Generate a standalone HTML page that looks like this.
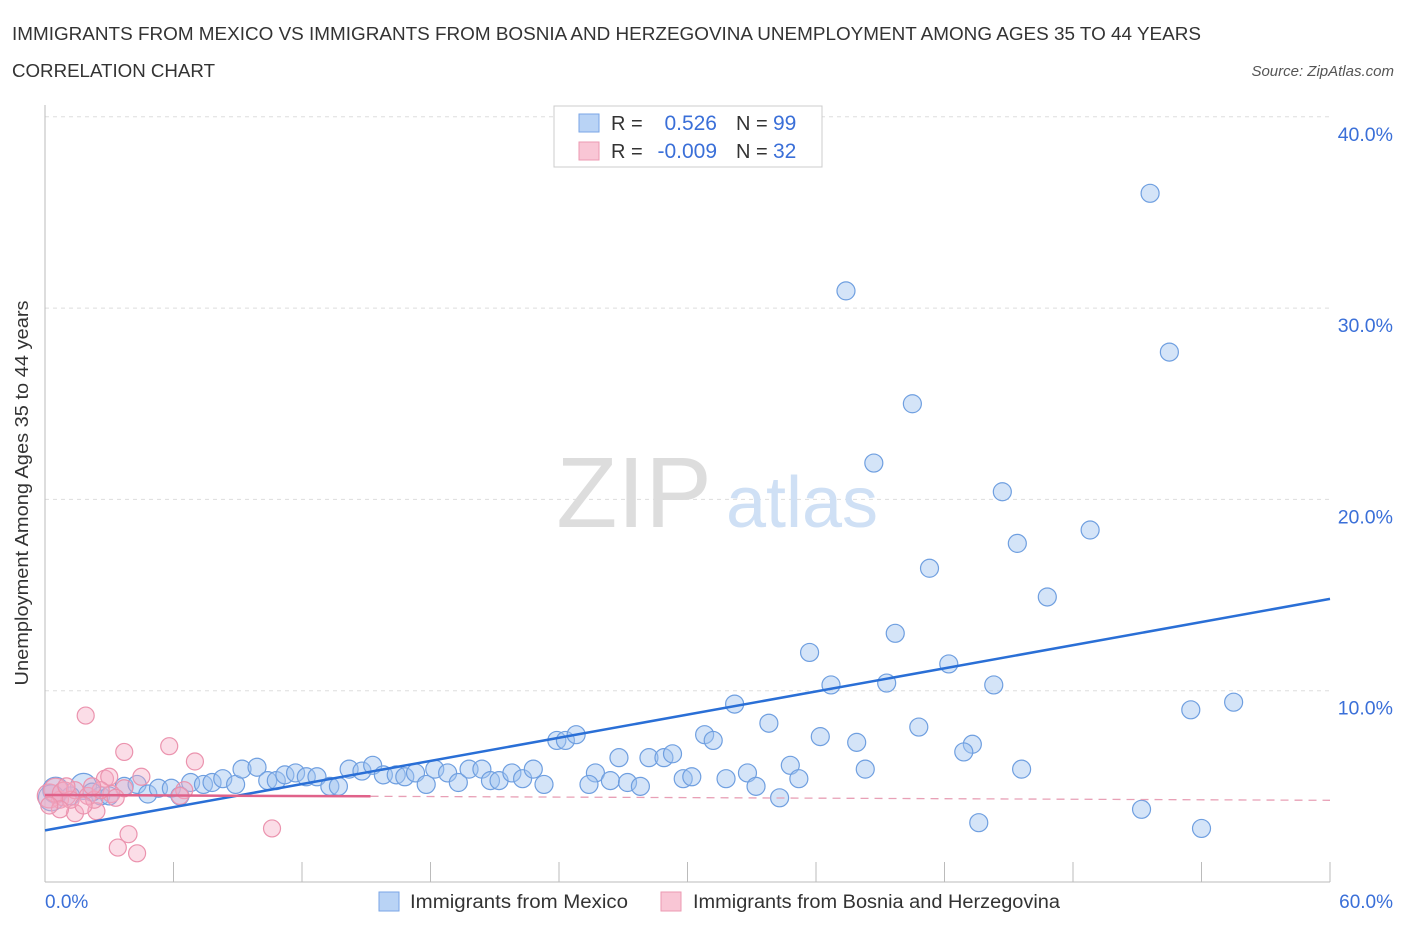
<!DOCTYPE html>
<html><head><meta charset="utf-8"><style>
body{margin:0;background:#fff;font-family:"Liberation Sans",sans-serif}
svg text{font-family:"Liberation Sans",sans-serif}
</style></head><body>
<svg width="1406" height="930" xmlns="http://www.w3.org/2000/svg">
<text x="12" y="40" font-size="18.5" fill="#333" textLength="1189" lengthAdjust="spacingAndGlyphs">IMMIGRANTS FROM MEXICO VS IMMIGRANTS FROM BOSNIA AND HERZEGOVINA UNEMPLOYMENT AMONG AGES 35 TO 44 YEARS</text>
<text x="12" y="77" font-size="18.5" fill="#333" textLength="203" lengthAdjust="spacingAndGlyphs">CORRELATION CHART</text>
<text x="1394" y="76" font-size="15" fill="#555" font-style="italic" text-anchor="end">Source: ZipAtlas.com</text>
<g id="grid"></g>
<text x="634" y="527" font-size="100" fill="#ddd" font-family="Liberation Serif" text-anchor="middle">ZIP</text>
<text x="802" y="527" font-size="72" fill="#cfe0f5" text-anchor="middle">atlas</text>
<g id="pts"></g>
<g id="lines"></g>
<text x="28" y="493" font-size="18" fill="#333" text-anchor="middle" textLength="385" lengthAdjust="spacingAndGlyphs" transform="rotate(-90 28 493)">Unemployment Among Ages 35 to 44 years</text>
<g>
<rect x="554" y="106" width="268" height="61" fill="#fff" stroke="#ccc"/>
<rect x="579" y="114" width="20" height="18" fill="#b9d3f5" stroke="#7aa6e6"/>
<rect x="579" y="142" width="20" height="18" fill="#f9c6d5" stroke="#ec9ab2"/>
<text x="611" y="130" font-size="20" fill="#333">R =</text>
<text x="717" y="130" font-size="21" fill="#3a6fd8" text-anchor="end">0.526</text>
<text x="736" y="130" font-size="20" fill="#333">N =</text>
<text x="773" y="130" font-size="21" fill="#3a6fd8">99</text>
<text x="611" y="158" font-size="20" fill="#333">R =</text>
<text x="717" y="158" font-size="21" fill="#3a6fd8" text-anchor="end">-0.009</text>
<text x="736" y="158" font-size="20" fill="#333">N =</text>
<text x="773" y="158" font-size="21" fill="#3a6fd8">32</text>
</g>
<g>
<rect x="379" y="892" width="20" height="19" fill="#b9d3f5" stroke="#7aa6e6"/>
<text x="410" y="908" font-size="19" fill="#333" textLength="218" lengthAdjust="spacingAndGlyphs">Immigrants from Mexico</text>
<rect x="661" y="892" width="20" height="19" fill="#f9c6d5" stroke="#ec9ab2"/>
<text x="693" y="908" font-size="19" fill="#333" textLength="367" lengthAdjust="spacingAndGlyphs">Immigrants from Bosnia and Herzegovina</text>
</g>
</svg>
<script>
const yTicks=[10,20,30,40];
const yTickLabels=["10.0%","20.0%","30.0%","40.0%"];
const xTickLabels=["0.0%","60.0%"];
const mexicoX=[51.6,37.4,52.5,40.5,38.7,44.7,48.8,45.4,41.3,46.8,39.7,35.7,42.2,36.7,39.3,44.3,53.5,55.5,32.2,33.8,40.8,30.8,31.2,36.2,37.9,43.3,42.9,23.9,24.3,24.8,26.8,28.2,28.9,29.3,34.8,38.3,45.6,32.8,25.7,29.8,30.2,31.8,35.2,26.4,27.2,27.8,25.4,23.3,33.2,34.3,43.6,51.2,54.0,0.5,1.8,1.2,2.6,3.0,3.7,4.3,4.8,5.3,5.9,6.3,6.8,7.4,7.8,8.3,8.9,9.2,9.9,10.4,10.8,11.2,11.7,12.2,12.7,13.3,13.7,14.2,14.8,15.3,15.8,16.4,16.8,17.3,17.8,18.2,18.8,19.3,19.8,20.4,20.8,21.2,21.8,22.3,22.8,0.3,2.2];
const mexicoY=[36.0,30.9,27.7,25.0,21.9,20.4,18.4,17.7,16.4,14.9,13.0,12.0,11.4,10.3,10.4,10.3,9.0,9.4,9.3,8.3,8.1,7.7,7.4,7.6,7.3,7.2,6.8,7.4,7.4,7.7,6.5,6.5,6.5,6.7,6.1,5.9,5.9,5.7,5.7,5.4,5.5,5.4,5.4,5.3,5.2,5.0,5.1,5.1,5.0,4.4,3.1,3.8,2.8,4.8,5.0,4.5,4.5,4.5,5.0,5.1,4.6,4.9,4.9,4.5,5.2,5.1,5.2,5.4,5.1,5.9,6.0,5.3,5.3,5.6,5.7,5.5,5.5,5.0,5.0,5.9,5.8,6.1,5.6,5.6,5.5,5.7,5.1,5.9,5.7,5.2,5.9,5.9,5.3,5.3,5.7,5.4,5.9,4.4,4.7];
const bosniaX=[1.9,3.7,5.8,7.0,10.6,3.9,3.4,4.3,2.8,3.0,4.5,3.7,6.5,6.3,2.4,1.4,0.7,0.2,0.5,0.9,1.4,2.0,2.3,3.1,3.3,1.2,1.8,0.7,2.6,0.2,1.0,2.2];
const bosniaY=[8.7,6.8,7.1,6.3,2.8,2.5,1.8,1.5,5.4,5.5,5.5,4.9,4.8,4.5,3.7,3.6,4.3,4.5,4.8,4.6,4.8,4.5,4.3,4.6,4.4,4.3,4.0,3.8,4.8,4.0,5.0,5.0];
const bigIdx=[53,54,97];
const NS="http://www.w3.org/2000/svg";
const X=v=>45+v*(1285/60), Y=v=>882-v*19.13;
function mk(t,a,p){const e=document.createElementNS(NS,t);for(const k in a)e.setAttribute(k,a[k]);document.getElementById(p).appendChild(e);return e;}
yTicks.forEach((t,i)=>{
 const l=mk('line',{x1:45,x2:1330,y1:Y(t),y2:Y(t),stroke:'#ddd','stroke-dasharray':'4 4'},'grid');
 
 
 const tx=mk('text',{x:1393,y:Y(t)+24,'font-size':19.5,fill:'#3a6fd8','text-anchor':'end'},'grid');tx.textContent=yTickLabels[i];
 
 
});
mk('line',{x1:45,x2:45,y1:105,y2:882,stroke:'#bbb'},'grid');
mk('line',{x1:45,x2:1330,y1:882,y2:882,stroke:'#bbb'},'grid');
for(let i=1;i<=10;i++){mk('line',{x1:X(i*6),x2:X(i*6),y1:862,y2:882,stroke:'#bbb'},'grid');}
const xl0=mk('text',{x:45,y:908,'font-size':19,fill:'#3a6fd8'},'grid');xl0.textContent=xTickLabels[0];


const xl1=mk('text',{x:1393,y:908,'font-size':19,fill:'#3a6fd8','text-anchor':'end'},'grid');xl1.textContent=xTickLabels[1];


mexicoX.forEach((v,i)=>{
 const c=mk('circle',{cx:X(v),cy:Y(mexicoY[i]),r:bigIdx.includes(i)?13:9,fill:'rgba(160,196,240,0.45)',stroke:'#6f9fe0','stroke-width':1.2},'pts');
 
 
});
bosniaX.forEach((v,i)=>{
 const c=mk('circle',{cx:X(v),cy:Y(bosniaY[i]),r:i>=17&&i<=19?12:8.5,fill:'rgba(245,170,195,0.4)',stroke:'#eb93ae','stroke-width':1.2},'pts');
 
 
});
const bt=mk('line',{x1:X(0),y1:Y(2.7),x2:X(60),y2:Y(14.8),stroke:'#2a6fd6','stroke-width':2.5},'lines');


const pt=mk('line',{x1:X(0),y1:Y(4.55),x2:X(15.2),y2:Y(4.48),stroke:'#e0628a','stroke-width':2.5},'lines');


const pd=mk('line',{x1:X(15.2),y1:Y(4.48),x2:X(60),y2:Y(4.27),stroke:'#e8a0b6','stroke-width':1.3,'stroke-dasharray':'8 6'},'lines');


</script>
</body></html>
